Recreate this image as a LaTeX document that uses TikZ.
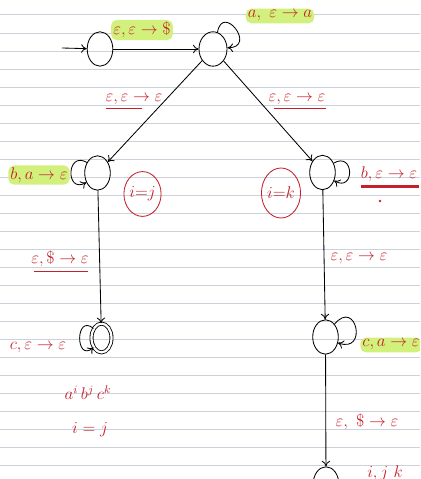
\documentclass[tikz,border=0pt]{standalone}
\usepackage{amsmath,amssymb}
\usepackage{tikz}
\usepackage{xcolor}
\usetikzlibrary{arrows.meta,calc,shapes.geometric}
\definecolor{InkRed}{HTML}{C4202B}
\definecolor{HiGreen}{HTML}{D2F07C}
\definecolor{RuleGray}{HTML}{CDD1DA}

\begin{document}
\begin{tikzpicture}[
      x=0.025cm,
      y=0.025cm,
      font=\large,
      >={To[length=4pt,width=6pt]},
      state/.style={draw,ellipse,line width=0.6pt,minimum width=0.64cm,minimum height=0.86cm,inner sep=0pt},
      accept/.style={state,double,double distance=1.6pt,minimum width=0.5cm,minimum height=0.72cm},
      lbl/.style={text=InkRed,inner sep=1.5pt},
      hl/.style={lbl,fill=HiGreen,rounded corners=4pt},
      ring/.style={draw=InkRed,ellipse,text=InkRed,line width=0.6pt,inner sep=0pt},
      uline/.style={draw=InkRed,line width=0.9pt},
      edge/.style={->,line width=0.6pt}
    ]
      \useasboundingbox (0,0) rectangle (420,479);
      \clip (0,0) rectangle (420,479);
      % ruled paper
      \foreach \n in {0,...,25}
        \draw[RuleGray,line width=0.7pt] (0,464-18*\n) -- (420,464-18*\n);

      % states
      \node[state] (q0) at (100,430) {};
      \node[state,minimum width=0.7cm] (q1) at (213,430) {};
      \node[state] (q2) at (97.5,306) {};
      \node[state] (q3) at (322.5,306.5) {};
      \node[accept] (q4) at (101.5,141) {};
      \node[state] (q5) at (325.5,142) {};
      \node[state] (q6) at (326,-5) {};
      \coordinate (start) at (62,431);

      % transitions
      \draw[edge] (start) -- (q0);
      \draw[edge] (q0) -- (q1);
      \draw[edge] (q1) -- (q2);
      \draw[edge] (q1) -- (q3);
      \draw[edge] (q2) -- (q4);
      \draw[edge] (q3) -- (q5);
      \draw[edge] (q5) -- (q6);
      % self loops
      \draw[edge] (q1.75) .. controls +(80:0.75cm) and +(0:0.75cm) .. (q1.5);
      \draw[edge] (q2.135) .. controls +(150:0.6cm) and +(210:0.6cm) .. (q2.220);
      \draw[edge] (q3.40) .. controls +(30:0.6cm) and +(-30:0.6cm) .. (q3.-35);
      \draw[edge] (q4.130) .. controls +(140:0.6cm) and +(220:0.6cm) .. (q4.230);
      \draw[edge] (q5.55) .. controls +(50:0.85cm) and +(-20:0.8cm) .. (q5.-25);

      % labels
      \node[hl] (l01) at (142,449) {$\varepsilon,\varepsilon\to\$$};
      \node[hl] (l11) at (280,463) {$a,\ \varepsilon\to a$};
      \node[lbl] (l12) at (134,379) {$\varepsilon,\varepsilon\to\varepsilon$};
      \node[lbl] (l13) at (297,379) {$\varepsilon,\varepsilon\to\varepsilon$};
      \node[hl] (l22) at (39,304) {$b,a\to\varepsilon$};
      \node[lbl] (l33) at (389,305) {$b,\varepsilon\to\varepsilon$};
      \node[lbl] (l24) at (60,220) {$\varepsilon,\$\to\varepsilon$};
      \node[lbl] (l35) at (359,220) {$\varepsilon,\varepsilon\to\varepsilon$};
      \node[lbl] (l44) at (38,131) {$c,\varepsilon\to\varepsilon$};
      \node[hl] (l55) at (391,134) {$c,a\to\varepsilon$};
      \node[lbl] (l56) at (367,57) {$\varepsilon,\ \$\to\varepsilon$};

      % underlines
      \draw[uline] ($(l12.south west)+(3,-1)$) -- ($(l12.south)+(8,-1)$);
      \draw[uline] ($(l13.south west)+(8,-1)$) -- ($(l13.south east)+(-2,-1)$);
      \draw[uline] ($(l24.south west)+(5,-2)$) -- ($(l24.south east)+(-3,-2)$);
      \draw[uline,line width=2pt] ($(l33.south west)+(2,-3)$) -- ($(l33.south east)+(0,-3)$);
      \fill[InkRed] (380,278) circle (1.3);

      % side notes
      \node[ring,minimum width=0.85cm,minimum height=1.12cm] (c1) at (142.5,285) {$i{=}j$};
      \node[ring,minimum width=0.95cm,minimum height=1.25cm] (c2) at (281,286) {$i{=}k$};
      \node[lbl] (lang) at (88,86) {$a^i\,b^j\,c^k$};
      \node[lbl] (cond) at (90,49) {$i=j$};
      \node[lbl] (rest) at (385,6) {$i,j\ k$};
    \end{tikzpicture}
\end{document}
